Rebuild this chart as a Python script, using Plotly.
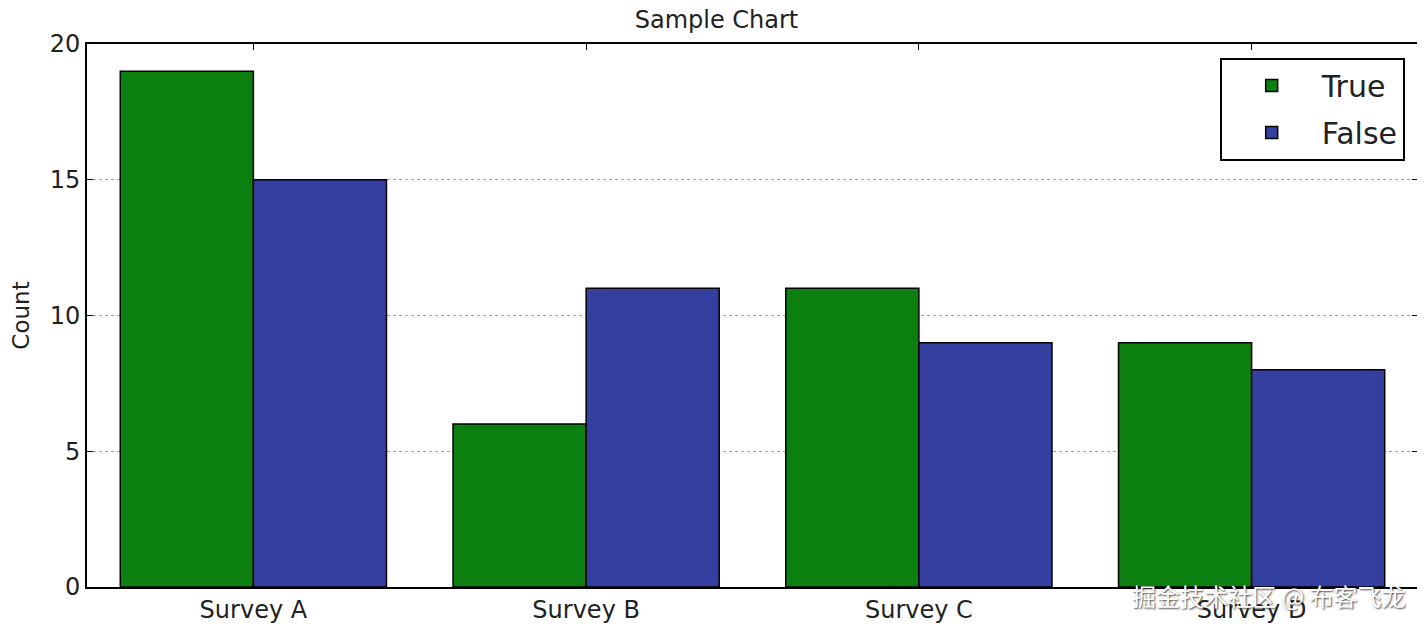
import plotly.graph_objects as go

categories = ["Survey A", "Survey B", "Survey C", "Survey D"]
true_counts = [19, 6, 11, 9]
false_counts = [15, 11, 9, 8]
y_ticks = [0, 5, 10, 15, 20]

GREEN = "#0b7f10"
BLUE = "#343fa0"
FONT = "DejaVu Sans, Noto Sans, sans-serif"

fig = go.Figure()
fig.add_trace(go.Bar(x=categories, y=true_counts, name="True", legendgroup="t",
                     marker=dict(color=GREEN, line=dict(color="black", width=1.5))))
fig.add_trace(go.Bar(x=categories, y=false_counts, name="False", legendgroup="f",
                     marker=dict(color=BLUE, line=dict(color="black", width=1.5))))

fig.update_layout(
    width=1417, height=621,
    margin=dict(l=79, r=5, t=36, b=40),
    paper_bgcolor="white", plot_bgcolor="white",
    barmode="group", bargap=0.2, bargroupgap=0,
    font=dict(family=FONT, color="#222", size=24),
    title=dict(text="Sample Chart", x=0.5, xanchor="center", y=0.982, yanchor="middle",
               font=dict(size=24, color="#222")),
    legend=dict(x=0.99, xanchor="right", y=0.975, yanchor="top",
                bordercolor="black", borderwidth=2, bgcolor="white",
                font=dict(size=30, color="#222"), itemwidth=90,
                tracegroupgap=5),
    showlegend=True,
)
fig.update_xaxes(
    range=[-0.5, 3.5], showline=True, linecolor="black", linewidth=2, mirror="ticks",
    ticks="inside", ticklen=6, tickcolor="black", showgrid=False,
    tickfont=dict(size=24, color="#222"), layer="above traces",
)
fig.update_yaxes(
    range=[0, 20], tickvals=y_ticks, showline=True, linecolor="black", linewidth=2,
    mirror="ticks", ticks="inside", ticklen=6, tickcolor="black",
    showgrid=True, gridcolor="#a0a0a0", griddash="dot", gridwidth=1.2,
    zeroline=False, tickfont=dict(size=24, color="#222"),
    title=dict(text="Count", font=dict(size=23, color="#222"), standoff=16),
    layer="above traces",
)
fig.add_annotation(
    text="掘金技术社区 @ 布客飞龙", xref="paper", yref="paper",
    x=0.992, xanchor="right", y=-0.015, yanchor="middle", showarrow=False,
    font=dict(family="Noto Sans CJK SC, sans-serif", size=24, color="white",
              shadow="1px 1px 2px #444"),
)
fig.write_html("out.html")
